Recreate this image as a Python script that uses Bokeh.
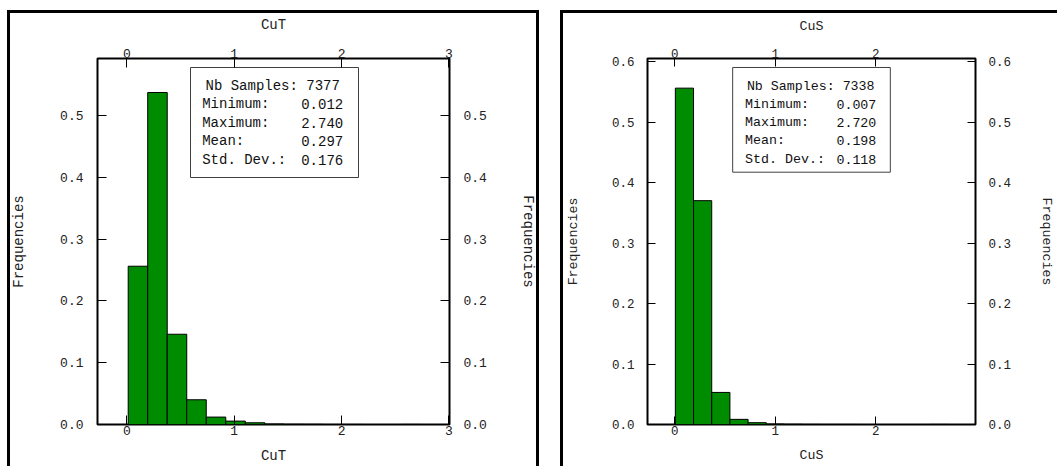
import numpy as np
from bokeh.plotting import figure
from bokeh.models import FixedTicker, PrintfTickFormatter, LinearAxis, Range1d
from bokeh.layouts import row
from bokeh.embed import file_html
from bokeh.resources import INLINE
from bokeh.core.properties import value

FONT = "Liberation Mono"

# ---------------- data ----------------
y_axis_title = "Frequencies"
stat_labels = ["Minimum:", "Maximum:", "Mean:", "Std. Dev.:"]
n_bins = 15

cut_name = "CuT"
cut_nb_samples = 7377
cut_minimum = 0.012
cut_maximum = 2.740
cut_mean = 0.297
cut_std_dev = 0.176
cut_frequencies = [0.256, 0.537, 0.146, 0.040, 0.012, 0.0055, 0.0028, 0.0008,
                   0.0004, 0.0003, 0.0001, 0.0001, 0.0, 0.0, 0.0001]
cut_x_ticks = [0, 1, 2, 3]
cut_y_ticks = [0.0, 0.1, 0.2, 0.3, 0.4, 0.5]

cus_name = "CuS"
cus_nb_samples = 7338
cus_minimum = 0.007
cus_maximum = 2.720
cus_mean = 0.198
cus_std_dev = 0.118
cus_frequencies = [0.556, 0.370, 0.053, 0.0085, 0.003, 0.0008, 0.0004, 0.0002,
                   0.0001, 0.0001, 0.0, 0.0, 0.0, 0.0, 0.0001]
cus_x_ticks = [0, 1, 2]
cus_y_ticks = [0.0, 0.1, 0.2, 0.3, 0.4, 0.5, 0.6]


def shadow_css(W, lo, li, to, ti, ro=None, ri=None):
    top_layer = [f"inset {lo}px 0 0 0 white", f"inset 0 {to}px 0 0 white"]
    bottom_layer = [f"inset {li}px 0 0 0 black", f"inset 0 {ti}px 0 0 black"]
    if ro is not None:
        top_layer.append(f"inset -{W - ro}px 0 0 0 white")
        bottom_layer.append(f"inset -{W - ri}px 0 0 0 black")
    return ", ".join(top_layer + bottom_layer)


def make_panel(name, nb, mn, mx, mean, std, freq, xticks, yticks, L):
    off = L["off"]
    W, H = L["W"], L["H"]
    fl, fr, ft, fb = L["frame"]
    x0, x1, y1 = L["x0"], L["x1"], L["y1"]
    p = figure(width=W, height=H,
               x_range=Range1d(x0, x1), y_range=Range1d(0, y1),
               output_backend="svg", toolbar_location=None,
               min_border_left=fl - off, min_border_right=off + W - fr,
               min_border_top=ft, min_border_bottom=H - fb,
               background_fill_color="white", border_fill_alpha=0,
               styles={"box-shadow": L["shadow"]})
    p.outline_line_color = "black"
    p.outline_line_width = 2
    p.xgrid.visible = False
    p.ygrid.visible = False

    p.add_layout(LinearAxis(), "above")
    p.add_layout(LinearAxis(), "right")

    tfs, afs = L["tick_fs"], L["lab_fs"]
    for ax in p.axis:
        ax.major_tick_in = L["tick_len"]
        ax.major_tick_out = 0
        ax.major_tick_line_color = "black"
        ax.major_tick_line_width = 1
        ax.minor_tick_line_color = None
        ax.axis_line_color = None
        ax.major_label_text_font = FONT
        ax.major_label_text_font_size = f"{tfs}px"
        ax.major_label_text_color = "#222222"
        ax.axis_label_text_font = FONT
        ax.axis_label_text_font_size = f"{afs}px"
        ax.axis_label_text_font_style = "normal"
        ax.axis_label_text_color = "#222222"

    for ax in p.below + p.above:
        if isinstance(ax, LinearAxis):
            ax.ticker = FixedTicker(ticks=xticks)
            ax.formatter = PrintfTickFormatter(format="%d")
            ax.axis_label = name
    for ax in p.left + p.right:
        if isinstance(ax, LinearAxis):
            ax.ticker = FixedTicker(ticks=yticks)
            ax.formatter = PrintfTickFormatter(format="%.1f")
            ax.axis_label = y_axis_title
            ax.major_label_standoff = L["y_std"]
    p.below[0].major_label_standoff = L["b_std"]
    p.below[0].axis_label_standoff = L["b_ast"]
    p.above[0].major_label_standoff = L["t_std"]
    p.above[0].axis_label_standoff = L["t_ast"]
    p.left[0].axis_label_standoff = L["l_ast"]
    p.right[0].axis_label_standoff = L["r_ast"]

    # histogram bars
    edges = np.linspace(mn, mx, n_bins + 1)
    p.quad(left=edges[:-1], right=edges[1:], bottom=0, top=freq,
           fill_color="#008c00", line_color="black", line_width=1)

    # statistics box (placed in pixels of the page, converted to data units)
    def px_x(px):
        return x0 + (px - fl) / (fr - fl) * (x1 - x0)

    def px_y(py):
        return (fb - py) / (fb - ft) * y1

    bl, br, bt, bb = L["box"]
    p.quad(left=[px_x(bl)], right=[px_x(br)], top=[px_y(bt)], bottom=[px_y(bb)],
           fill_color="white", line_color="#404040", line_width=1)
    tl, tr = L["text_lr"]
    ys = [px_y(v) for v in L["line_y"]]
    bfs = f"{L['box_fs']}px"
    p.text(x=[px_x((tl + tr) / 2)], y=[ys[0]], text=[f"Nb Samples: {nb}"],
           text_font=value(FONT), text_font_size=bfs, text_align="center",
           text_baseline="middle", text_color="#111111")
    vals = [mn, mx, mean, std]
    p.text(x=[px_x(tl)] * 4, y=ys[1:], text=stat_labels,
           text_font=value(FONT), text_font_size=bfs, text_align="left",
           text_baseline="middle", text_color="#111111")
    p.text(x=[px_x(tr)] * 4, y=ys[1:], text=[f"{v:.3f}" for v in vals],
           text_font=value(FONT), text_font_size=bfs, text_align="right",
           text_baseline="middle", text_color="#111111")
    return p


L1 = dict(off=0, W=556, H=466, frame=(97, 449, 58, 424),
          x0=-0.274, x1=3.006, y1=0.592,
          tick_fs=13, lab_fs=14, box_fs=14, tick_len=9,
          y_std=14, l_ast=30, r_ast=30, t_std=1, t_ast=13, b_std=1, b_ast=10,
          box=(190, 358, 67, 177), text_lr=(201.7, 342.7),
          line_y=[85, 103.5, 122, 140.5, 159],
          shadow=shadow_css(556, 7, 10, 10, 13, 539, 536))

L2 = dict(off=556, W=501, H=466, frame=(647, 982, 57, 424),
          x0=-0.27, x1=2.992, y1=0.605,
          tick_fs=12.5, lab_fs=13.3, box_fs=13.3, tick_len=8,
          y_std=13, l_ast=28, r_ast=25, t_std=1, t_ast=12, b_std=1, b_ast=10,
          box=(734, 895, 66, 171), text_lr=(746.7, 880.7),
          line_y=[85, 103.2, 121.4, 139.6, 157.8],
          shadow=shadow_css(501, 4, 7, 10, 13))

p1 = make_panel(cut_name, cut_nb_samples, cut_minimum, cut_maximum, cut_mean,
                cut_std_dev, cut_frequencies, cut_x_ticks, cut_y_ticks, L1)
p2 = make_panel(cus_name, cus_nb_samples, cus_minimum, cus_maximum, cus_mean,
                cus_std_dev, cus_frequencies, cus_x_ticks, cus_y_ticks, L2)

layout = row(p1, p2, spacing=0)
open("out.html", "w").write(file_html(layout, INLINE))
